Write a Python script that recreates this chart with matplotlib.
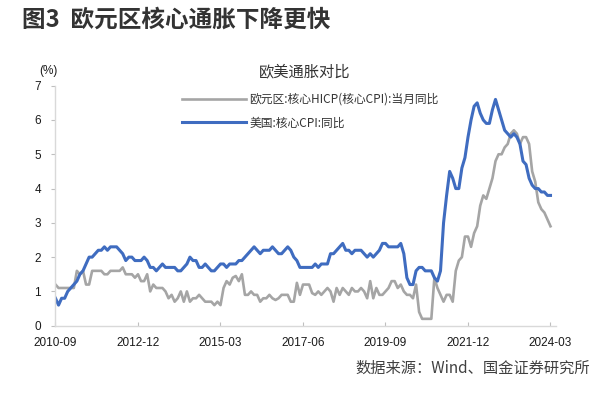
import numpy as np
import matplotlib
matplotlib.use('Agg')
import matplotlib.pyplot as plt

plt.rcParams['font.family'] = ['Noto Sans CJK SC', 'DejaVu Sans']

# 月度数据: 2010-09 ~ 2024-03
start_label = '2010-09'
tick_labels = ['2010-09', '2012-12', '2015-03', '2017-06', '2019-09', '2021-12', '2024-03']
tick_months = [0, 27, 54, 81, 108, 135, 162]  # 距 2010-09 的月数

# 美国: 核心CPI同比 (%)
us_core = [
    0.8, 0.6, 0.8, 0.8,
    1.0, 1.1, 1.2, 1.3, 1.5, 1.6, 1.8, 2.0, 2.0, 2.1, 2.2, 2.2,
    2.3, 2.2, 2.3, 2.3, 2.3, 2.2, 2.1, 1.9, 2.0, 2.0, 1.9, 1.9,
    1.9, 2.0, 1.9, 1.7, 1.7, 1.6, 1.7, 1.8, 1.7, 1.7, 1.7, 1.7,
    1.6, 1.6, 1.7, 1.8, 2.0, 1.9, 1.9, 1.7, 1.7, 1.8, 1.7, 1.6,
    1.6, 1.7, 1.8, 1.8, 1.7, 1.8, 1.8, 1.8, 1.9, 1.9, 2.0, 2.1,
    2.2, 2.3, 2.2, 2.1, 2.2, 2.2, 2.2, 2.3, 2.2, 2.1, 2.1, 2.2,
    2.3, 2.2, 2.0, 1.9, 1.7, 1.7, 1.7, 1.7, 1.7, 1.8, 1.7, 1.8,
    1.8, 1.8, 2.1, 2.1, 2.2, 2.3, 2.4, 2.2, 2.2, 2.1, 2.2, 2.2,
    2.2, 2.1, 2.0, 2.1, 2.0, 2.1, 2.2, 2.4, 2.4, 2.3, 2.3, 2.3,
    2.3, 2.4, 2.1, 1.4, 1.2, 1.2, 1.6, 1.7, 1.7, 1.6, 1.6, 1.6,
    1.4, 1.3, 1.6, 3.0, 3.8, 4.5, 4.3, 4.0, 4.0, 4.6, 4.9, 5.5,
    6.0, 6.4, 6.5, 6.2, 6.0, 5.9, 5.9, 6.3, 6.6, 6.3, 6.0, 5.7,
    5.6, 5.5, 5.6, 5.5, 5.3, 4.8, 4.7, 4.3, 4.1, 4.0, 4.0, 3.9,
    3.9, 3.8, 3.8,
]

# 欧元区: 核心HICP(核心CPI)当月同比 (%)
ez_core = [
    1.2, 1.1, 1.1, 1.1,
    1.1, 1.1, 1.1, 1.6, 1.5, 1.6, 1.2, 1.2, 1.6, 1.6, 1.6, 1.6,
    1.5, 1.5, 1.6, 1.6, 1.6, 1.6, 1.7, 1.5, 1.5, 1.5, 1.4, 1.5,
    1.3, 1.3, 1.5, 1.0, 1.2, 1.1, 1.1, 1.1, 1.0, 0.8, 0.9, 0.7,
    0.8, 1.0, 0.7, 1.0, 0.7, 0.8, 0.8, 0.9, 0.8, 0.7, 0.7, 0.7,
    0.6, 0.7, 0.6, 1.1, 1.3, 1.2, 1.4, 1.45, 1.3, 1.5, 0.9, 0.9,
    1.0, 0.9, 0.9, 0.7, 0.8, 0.8, 0.9, 0.8, 0.75, 0.8, 0.9, 0.9,
    0.9, 0.7, 0.7, 1.25, 0.9, 1.2, 1.2, 1.2, 0.95, 0.9, 1.0, 0.9,
    1.0, 1.1, 1.0, 0.7, 1.1, 0.9, 1.1, 1.0, 0.9, 1.1, 1.0, 1.0,
    1.1, 1.0, 0.8, 1.3, 0.8, 1.1, 0.9, 0.9, 1.0, 1.1, 1.3, 1.3,
    1.1, 1.2, 1.0, 0.9, 0.9, 0.8, 1.2, 0.4, 0.2, 0.2, 0.2, 0.2,
    1.4, 1.1, 0.9, 0.7, 0.9, 0.9, 0.7, 1.6, 1.9, 2.0, 2.6, 2.6,
    2.3, 2.7, 2.9, 3.5, 3.8, 3.7, 4.0, 4.3, 4.8, 5.0, 5.0, 5.2,
    5.3, 5.6, 5.7, 5.6, 5.3, 5.5, 5.5, 5.3, 4.5, 4.2, 3.6, 3.4,
    3.3, 3.1, 2.9,
]

series_names = ['欧元区:核心HICP(核心CPI):当月同比', '美国:核心CPI:同比']
gray = '#A5A5A5'
blue = '#3F6CC0'

fig = plt.figure(figsize=(6.15, 3.96), dpi=100)
ax = fig.add_axes([55 / 615, 70.3 / 396, 501 / 615, 240 / 396])

x = np.arange(len(us_core))
ax.plot(x, ez_core, color=gray, lw=1.9, label=series_names[0], solid_joinstyle='round')
ax.plot(x, us_core, color=blue, lw=2.2, label=series_names[1], solid_joinstyle='round')

ax.set_xlim(-0.16, 163.8)
ax.set_ylim(0, 7)
ax.set_yticks(range(0, 8))
ax.set_xticks(tick_months)
ax.set_xticklabels(tick_labels)

for s in ['top', 'right']:
    ax.spines[s].set_visible(False)
for s in ['left', 'bottom']:
    ax.spines[s].set_color('#D9D9D9')
    ax.spines[s].set_linewidth(1.0)

ax.tick_params(axis='y', direction='out', length=3, color='#BFBFBF', pad=7)
ax.tick_params(axis='x', direction='in', length=3, color='#BFBFBF', pad=8)
for lab in ax.get_xticklabels() + ax.get_yticklabels():
    lab.set_family(['Liberation Sans', 'DejaVu Sans'])
    lab.set_fontsize(8.5)
    lab.set_color('#1A1A1A')

leg = ax.legend(loc='upper left', bbox_to_anchor=(176 / 615, 1 - 87 / 396),
                bbox_transform=fig.transFigure, frameon=False, fontsize=8.5,
                handlelength=5.4, handletextpad=0.3, labelspacing=0.9, borderpad=0)
for t in leg.get_texts():
    t.set_color('#333333')

fig.text(22 / 615, 1 - 20 / 396, '图3  欧元区核心通胀下降更快', fontsize=17,
         fontweight='bold', color='#333333', va='center', ha='left')
fig.text(305 / 615, 1 - 72 / 396, '欧美通胀对比', fontsize=11,
         color='#333333', va='center', ha='center')
fig.text(48 / 615, 1 - 71 / 396, '(%)', fontsize=8.5, color='#1A1A1A',
         va='center', ha='center', family=['Liberation Sans', 'DejaVu Sans'])
fig.text(590 / 615, 1 - 368 / 396, '数据来源：Wind、国金证券研究所', fontsize=11,
         color='#404040', va='center', ha='right')

fig.savefig('out.png', dpi=100)
